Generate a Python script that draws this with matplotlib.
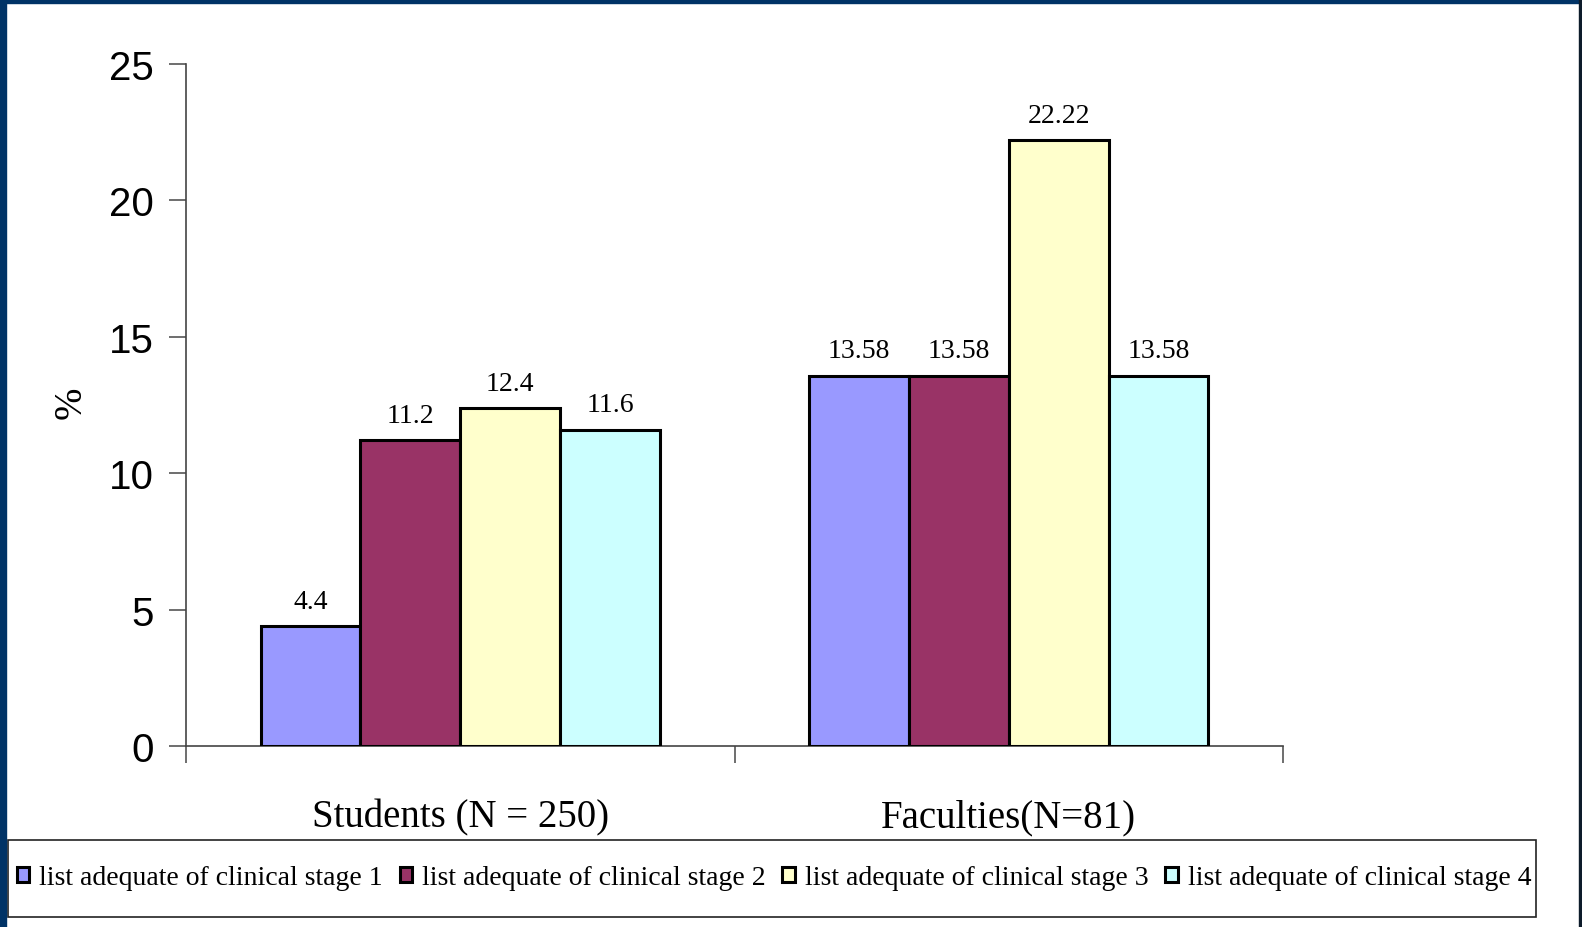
import numpy as np
import matplotlib
matplotlib.use("Agg")
import matplotlib.pyplot as plt
from matplotlib.patches import Rectangle

# data
groups = ["Students (N = 250)", "Faculties(N=81)"]
series = ["list adequate of clinical stage 1", "list adequate of clinical stage 2",
          "list adequate of clinical stage 3", "list adequate of clinical stage 4"]
stage1 = [4.4, 13.58]
stage2 = [11.2, 13.58]
stage3 = [12.4, 22.22]
stage4 = [11.6, 13.58]
values = [stage1, stage2, stage3, stage4]
colors = ["#9999FF", "#993366", "#FFFFCC", "#CCFFFF"]
yticks = [0, 5, 10, 15, 20, 25]

W, H = 1582, 928
fig = plt.figure(figsize=(W / 100, H / 100), dpi=100)
fig.patch.set_facecolor("white")

ax = fig.add_axes([186 / W, 1 - 747 / H, (1283 - 186) / W, (747 - 65) / H])

x = np.arange(len(groups))
w = 0.182
for i, (vals, c) in enumerate(zip(values, colors)):
    bars = ax.bar(x + (i - 1.5) * w, vals, w, color=c, edgecolor="black",
                  linewidth=2.2, label=series[i], zorder=3)
    for b, v in zip(bars, vals):
        ax.annotate(f"{v:g}", (b.get_x() + b.get_width() / 2, v),
                    xytext=(0, 13), textcoords="offset points",
                    ha="center", va="baseline", fontsize=20,
                    family="Liberation Serif")

ax.set_xlim(-0.5, 1.5)
ax.set_ylim(0, 25)
ax.set_yticks(yticks)
ax.set_yticklabels([str(t) for t in yticks], family="Liberation Sans", fontsize=29)
ax.tick_params(axis="y", length=12, width=1.2, color="#555555", pad=11)

ax.set_xticks(x)
ax.set_xticklabels(groups, family="Liberation Serif", fontsize=28)
ax.tick_params(axis="x", which="major", length=0, pad=38)
ax.set_xticks([-0.5, 0.5, 1.5], minor=True)
ax.tick_params(axis="x", which="minor", length=12, width=1.2, color="#555555")

for s in ["top", "right"]:
    ax.spines[s].set_visible(False)
for s in ["left", "bottom"]:
    ax.spines[s].set_color("#444444")
    ax.spines[s].set_linewidth(1.2)

fig.text(71 / W, 1 - 403 / H, "%", rotation=90, ha="center", va="center",
         family="Liberation Serif", fontsize=28)

# legend row with its own frame
fig.legend(loc="center", bbox_to_anchor=(774 / W, 1 - 879 / H), ncol=4,
           frameon=False, prop={"family": "Liberation Serif", "size": 20},
           handlelength=0.45, handleheight=0.45, handletextpad=0.36,
           columnspacing=0.6)
fig.patches.append(Rectangle((8 / W, 1 - 918 / H), (1536 - 8) / W, (918 - 841) / H,
                             transform=fig.transFigure, fill=False,
                             edgecolor="#222222", linewidth=1.2))

# slide border
fig.patches.append(Rectangle((0, 0), 6 / W, 1, transform=fig.transFigure,
                             color="#003366", zorder=10))
fig.patches.append(Rectangle((0, 1 - 4 / H), 1, 4 / H, transform=fig.transFigure,
                             color="#003366", zorder=10))
fig.patches.append(Rectangle((1 - 3 / W, 0), 3 / W, 1, transform=fig.transFigure,
                             color="#0d1b2a", zorder=10))

fig.savefig("out.png", dpi=100)
